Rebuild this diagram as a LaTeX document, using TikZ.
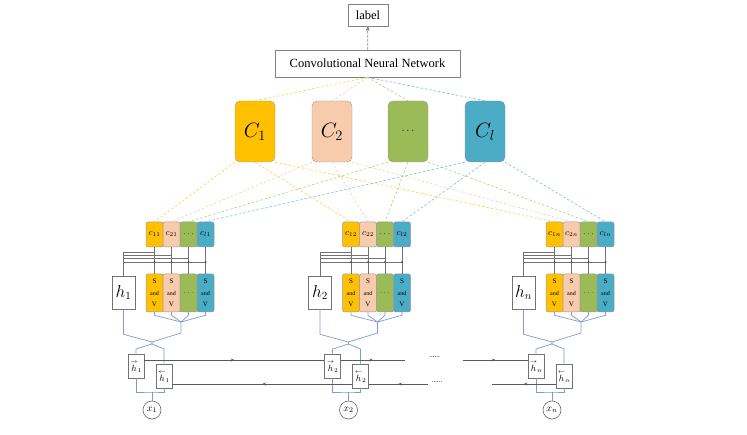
\documentclass[tikz,border=0pt]{standalone}
\usepackage{fontspec}
\setmainfont{Liberation Serif}
\usetikzlibrary{arrows.meta,decorations.markings}
\definecolor{cyel}{HTML}{FFC000}
\definecolor{cpea}{HTML}{F8CBAD}
\definecolor{cgre}{HTML}{9BBB59}
\definecolor{cblu}{HTML}{4BACC6}
\definecolor{ctree}{HTML}{7F9BC8}

\begin{document}
\begin{tikzpicture}[x=1pt, y=-1pt,
        plain/.style={rectangle, draw=black!50, line width=0.6pt, fill=white, inner sep=0pt, font=\fontsize{12.5}{14}\selectfont},
        bigc/.style={rectangle, draw=black!40, rounded corners=5pt, minimum width=40pt, minimum height=61pt, inner sep=0pt, font=\fontsize{20}{22}\selectfont},
        cell/.style={rectangle, draw=black!40, rounded corners=2pt, minimum width=17pt, inner sep=0pt, line width=0.5pt},
        ctx/.style={cell, minimum height=25pt, font=\fontsize{9}{10}\selectfont},
        sv/.style={cell, minimum height=38pt, align=center, font=\fontsize{7}{11.5}\selectfont},
        hbox/.style={rectangle, draw=black!55, fill=white, line width=0.6pt, inner sep=0pt},
        wire/.style={draw=black!55, line width=0.5pt},
        tree/.style={draw=ctree, line width=0.7pt},
        link/.style={dash pattern=on 2.5pt off 2pt, line width=0.6pt},
        flow/.style={draw=black!65, line width=0.6pt, postaction={decorate},
            decoration={markings, mark=at position 0.5 with {\arrow{Stealth[length=3.5pt,width=3pt]}}}},
    ]
    \useasboundingbox (0,0) rectangle (747,435);

    % Output and CNN
    \node[plain, minimum width=40pt, minimum height=22pt] (label) at (368,15) {label};
    \node[plain, minimum width=185pt, minimum height=27pt] (cnn) at (367.5,63.5) {Convolutional Neural Network};
    \draw[draw=black!50, line width=0.8pt, dash pattern=on 2.5pt off 1.5pt, -{Triangle[length=4pt,width=3.5pt]}] (cnn) -- (label);

    % Global context vectors
    \node[bigc, fill=cyel] (C1) at (255,131.5) {$C_1$};
    \node[bigc, fill=cpea] (C2) at (332,131.5) {$C_2$};
    \node[bigc, fill=cgre, font=\fontsize{11}{12}\selectfont] (C3) at (408,131.5) {$\cdots$};
    \node[bigc, fill=cblu] (C4) at (485,131.5) {$C_l$};

    % Word blocks
    \foreach \ox/\b in {0/1, 196.5/2, 400/n} {
        \node[ctx, fill=cyel] (c1-\b) at (154.5+\ox,234.5) {$c_{1\b}$};
        \node[ctx, fill=cpea] (c2-\b) at (171.5+\ox,234.5) {$c_{2\b}$};
        \node[ctx, fill=cgre] (c3-\b) at (188.5+\ox,234.5) {$\cdots$};
        \node[ctx, fill=cblu] (c4-\b) at (205.5+\ox,234.5) {$c_{l\b}$};

        \node[sv, fill=cyel] (s1-\b) at (154.5+\ox,293) {S\\{\fontsize{6}{11.5}\selectfont and}\\V};
        \node[sv, fill=cpea] (s2-\b) at (171.5+\ox,293) {S\\{\fontsize{6}{11.5}\selectfont and}\\V};
        \node[sv, fill=cgre] (s3-\b) at (188.5+\ox,293) {$\cdots$};
        \node[sv, fill=cblu] (s4-\b) at (205.5+\ox,293) {S\\{\fontsize{6}{11.5}\selectfont and}\\V};

        \node[hbox, minimum width=23pt, minimum height=33pt, font=\fontsize{16}{18}\selectfont] (h-\b) at (123.5+\ox,292.5) {$h_{\b}$};
        \node[hbox, minimum width=16pt, minimum height=24pt, font=\fontsize{9}{10}\selectfont] (f-\b) at (136+\ox,366) {$\stackrel{\rightarrow}{h}_{\b}$};
        \node[hbox, minimum width=16pt, minimum height=24pt, font=\fontsize{9}{10}\selectfont] (b-\b) at (164+\ox,376) {$\stackrel{\leftarrow}{h}_{\b}$};
        \node[circle, draw=black!60, line width=0.6pt, minimum size=18pt, inner sep=0pt, font=\fontsize{10}{12}\selectfont] (x-\b) at (152+\ox,410) {$x_{\b}$};

        % h to context cells
        \foreach \k/\yy in {1/252, 2/255, 3/258, 4/262}
            \draw[wire] (h-\b.north) |- (c\k-\b.south |- 0,\yy);
        \foreach \k in {1,...,4} {
            \draw[wire] (c\k-\b) -- (s\k-\b);
            \fill[black!70] (c\k-\b.south |- 0,262) circle (1pt);
        }

        % merging tree
        \coordinate (m-\b) at (181+\ox,322);
        \coordinate (j-\b) at (152+\ox,342);
        \coordinate (k-\b) at (152+\ox,392);
        \foreach \k in {1,...,4}
            \draw[tree] (s\k-\b.south) -- ++(0,3) -- (m-\b);
        \draw[tree] (m-\b) -- ++(0,11) -- (j-\b);
        \draw[tree] (h-\b.south) -- ++(0,25) -- (j-\b);
        \draw[tree] (j-\b) -- ++(0,2) -- (f-\b.north |- 0,349) -- (f-\b.north);
        \draw[tree] (j-\b) -- ++(0,2) -- (b-\b.north |- 0,349) -- (b-\b.north);
        \draw[tree] (f-\b.south) |- (k-\b) -| (b-\b.south);
        \draw[tree] (k-\b) -- (x-\b);
    }

    % Dashed links
    \foreach \k/\clr/\pct in {1/cyel/75, 2/cpea/100, 3/cgre/75, 4/cblu/75} {
        \draw[link, draw=\clr!\pct] (cnn.south) -- (C\k.north);
        \draw[link, draw=\clr!\pct] (C\k.south west) -- (c\k-1.north);
        \draw[link, draw=\clr!\pct] (C\k.south) -- (c\k-2.north);
        \draw[link, draw=\clr!\pct] (C\k.south east) -- (c\k-n.north);
    }

    % Forward and backward LSTM chains
    \coordinate (fgap1) at (405,360);
    \coordinate (fgap2) at (463,360);
    \coordinate (bgap1) at (428,384);
    \coordinate (bgap2) at (492,384);
    \node[font=\fontsize{7}{8}\selectfont] (fdots) at (434.5,357.5) {......};
    \node[font=\fontsize{7}{8}\selectfont] (bdots) at (437,382) {......};
    \draw[flow] (f-1.east |- 0,360) -- (f-2.west |- 0,360);
    \draw[flow] (f-2.east |- 0,360) -- (fgap1);
    \draw[flow] (fgap2) -- (f-n.west |- 0,360);
    \draw[flow] (b-2.west |- 0,384) -- (b-1.east |- 0,384);
    \draw[flow] (bgap1) -- (b-2.east |- 0,384);
    \draw[flow] (b-n.west |- 0,384) -- (bgap2);
\end{tikzpicture}
\end{document}
